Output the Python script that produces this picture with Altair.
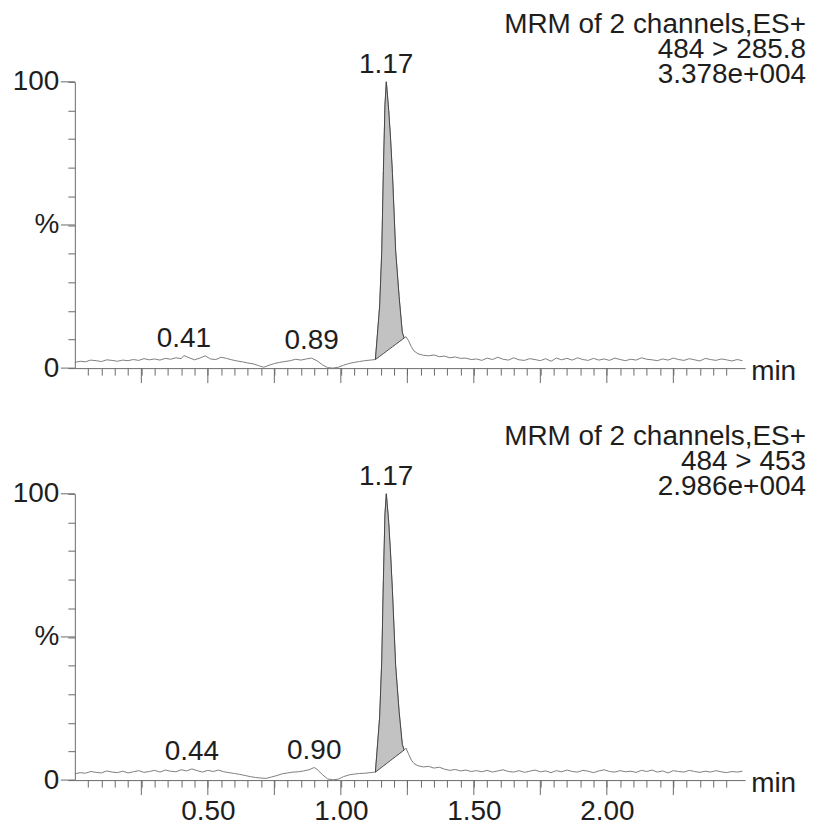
import altair as alt
import numpy as np
import pandas as pd

W, H = 672, 287
FONT = "Liberation Sans"
FS = 28
TXT = "#1e1e1e"
AX = "#6a6a6a"
TRACE = "#808080"
FILL = "#c2c2c2"
EDGE = "#454545"

# ---- top trace: MRM 484 > 285.8 ----
top_time = [0.00, 0.02, 0.04, 0.06, 0.08, 0.10, 0.12, 0.14, 0.16, 0.18, 0.20, 0.22, 0.24, 0.26,
            0.28, 0.30, 0.32, 0.34, 0.36, 0.38, 0.40, 0.41, 0.43, 0.45, 0.47, 0.49, 0.51, 0.53,
            0.55, 0.57, 0.59, 0.61, 0.63, 0.65, 0.67, 0.69, 0.71, 0.73, 0.75, 0.77, 0.79, 0.81,
            0.83, 0.85, 0.87, 0.89, 0.91, 0.93, 0.95, 0.97, 0.99, 1.01, 1.03, 1.05, 1.07, 1.09,
            1.11, 1.13, 1.146, 1.154, 1.160, 1.166, 1.171, 1.180, 1.187, 1.194, 1.206, 1.219,
            1.231, 1.238, 1.245, 1.255, 1.265, 1.275, 1.29, 1.31, 1.33, 1.35, 1.37, 1.39, 1.41,
            1.43, 1.45, 1.47, 1.49, 1.51, 1.53, 1.55, 1.57, 1.59, 1.61, 1.63, 1.65, 1.67, 1.69,
            1.71, 1.73, 1.75, 1.77, 1.79, 1.81, 1.83, 1.85, 1.87, 1.89, 1.91, 1.93, 1.95, 1.97,
            1.99, 2.01, 2.03, 2.05, 2.07, 2.09, 2.11, 2.13, 2.15, 2.17, 2.19, 2.21, 2.23, 2.25,
            2.27, 2.29, 2.31, 2.33, 2.35, 2.37, 2.39, 2.41, 2.43, 2.45, 2.47, 2.49, 2.51]
top_pct = [2.0, 2.4, 2.2, 2.8, 2.6, 2.3, 2.9, 2.7, 2.4, 2.8, 2.6, 3.0, 2.7, 3.3,
           2.9, 3.2, 2.8, 3.4, 3.1, 3.6, 3.3, 4.4, 3.6, 2.9, 3.5, 4.3, 3.2, 3.0,
           3.8, 3.4, 2.9, 2.5, 2.2, 1.8, 1.5, 0.9, 0.3, 1.0, 1.6, 2.0, 2.3, 2.6,
           3.1, 2.8, 3.2, 3.5, 2.6, 1.2, 0.2, 0.0, 0.3, 1.0, 1.6, 2.0, 2.3, 2.6,
           2.8, 3.0, 21.7, 41.0, 69.0, 92.0, 100.0, 90.0, 80.0, 68.0, 41.0, 25.0,
           12.5, 10.5, 11.0, 9.5, 7.5, 6.0, 5.0, 4.5, 4.3, 4.6, 4.0, 4.2, 3.6,
           3.9, 3.4, 3.5, 3.0, 3.2, 2.7, 3.5, 3.0, 3.8, 3.1, 2.8, 3.6, 2.9, 2.7,
           3.3, 3.0, 2.6, 3.3, 2.4, 3.5, 2.9, 3.4, 2.8, 3.6, 3.0, 2.7, 3.4, 2.8,
           3.2, 2.7, 3.5, 3.0, 2.6, 3.1, 2.8, 3.6, 3.1, 2.9, 2.6, 3.2, 2.8, 3.5,
           3.0, 2.7, 3.3, 2.9, 2.5, 3.4, 3.0, 2.7, 3.2, 2.9, 2.5, 3.0, 2.6]

# ---- bottom trace: MRM 484 > 453 ----
bot_time = [0.00, 0.02, 0.04, 0.06, 0.08, 0.10, 0.12, 0.14, 0.16, 0.18, 0.20, 0.22, 0.24, 0.26,
            0.28, 0.30, 0.32, 0.34, 0.36, 0.38, 0.40, 0.42, 0.44, 0.46, 0.48, 0.50, 0.52, 0.54,
            0.56, 0.58, 0.60, 0.62, 0.64, 0.66, 0.68, 0.70, 0.72, 0.74, 0.76, 0.78, 0.80, 0.82,
            0.84, 0.86, 0.88, 0.90, 0.91, 0.93, 0.95, 0.97, 0.99, 1.01, 1.03, 1.05, 1.07, 1.09,
            1.11, 1.13, 1.146, 1.154, 1.160, 1.166, 1.171, 1.180, 1.187, 1.194, 1.206, 1.219,
            1.231, 1.238, 1.245, 1.255, 1.265, 1.275, 1.29, 1.31, 1.33, 1.35, 1.37, 1.39, 1.41,
            1.43, 1.45, 1.47, 1.49, 1.51, 1.53, 1.55, 1.57, 1.59, 1.61, 1.63, 1.65, 1.67, 1.69,
            1.71, 1.73, 1.75, 1.77, 1.79, 1.81, 1.83, 1.85, 1.87, 1.89, 1.91, 1.93, 1.95, 1.97,
            1.99, 2.01, 2.03, 2.05, 2.07, 2.09, 2.11, 2.13, 2.15, 2.17, 2.19, 2.21, 2.23, 2.25,
            2.27, 2.29, 2.31, 2.33, 2.35, 2.37, 2.39, 2.41, 2.43, 2.45, 2.47, 2.49, 2.51]
bot_pct = [2.2, 2.6, 2.4, 3.0, 2.7, 2.5, 3.2, 2.8, 2.6, 3.1, 2.5, 2.9, 3.3, 2.7,
           3.0, 3.4, 2.8, 3.5, 3.1, 2.9, 3.6, 3.2, 3.9, 3.3, 2.8, 3.4, 3.0, 3.5,
           2.9, 2.6, 2.3, 2.0, 1.6, 1.2, 0.9, 0.7, 0.6, 1.1, 1.6, 2.2, 2.5, 2.8,
           2.9, 3.2, 3.6, 4.4, 3.8, 2.0, 0.4, 0.1, 0.3, 1.2, 1.8, 2.1, 2.3, 2.4,
           2.6, 2.8, 22.0, 42.0, 70.0, 93.0, 100.0, 90.0, 79.0, 66.0, 40.0, 24.0,
           12.5, 10.5, 11.2, 9.0, 7.0, 5.8, 5.0, 4.6, 4.8, 4.2, 4.5, 3.8, 3.4,
           3.7, 3.2, 3.5, 3.0, 3.3, 2.9, 3.4, 2.8, 3.2, 3.6, 3.0, 2.8, 3.3, 2.7,
           3.1, 3.5, 2.9, 3.2, 2.6, 3.3, 2.9, 3.5, 3.0, 2.8, 3.4, 3.1, 2.6, 3.2,
           3.6, 3.0, 2.8, 3.3, 2.9, 3.1, 2.7, 3.4, 3.0, 3.5, 2.8, 3.2, 2.5, 3.3,
           3.0, 2.8, 3.4, 3.0, 2.7, 3.1, 2.8, 3.3, 2.9, 2.6, 3.0, 2.8, 3.1]

top_peak = [1.13, 1.238]
bot_peak = [1.13, 1.238]

top_lab_t = [0.41, 0.89, 1.17]
top_lab_p = [4.4, 3.5, 100.0]
top_lab_s = ["0.41", "0.89", "1.17"]
bot_lab_t = [0.44, 0.90, 1.17]
bot_lab_p = [3.9, 4.4, 100.0]
bot_lab_s = ["0.44", "0.90", "1.17"]

top_header = ["MRM of 2 channels,ES+", "484 > 285.8", "3.378e+004"]
bot_header = ["MRM of 2 channels,ES+", "484 > 453", "2.986e+004"]

minor_ticks = [round(0.05 * i, 2) for i in range(1, 50)]
mid_ticks = [0.25 * i for i in range(1, 10)]
y_ticks = list(range(0, 101, 10))
y_major = [0, 50, 100]
header_dy = [-57, -32, -7]

NOVIEW = alt.ViewBackground(stroke="transparent", strokeWidth=0, fill="white")


def panel(times, pct, peak, lt, lp, ls, header, show_x_labels):
    df = pd.DataFrame({"t": times, "p": pct})
    s, e = peak
    pk = df[(df.t >= s - 1e-9) & (df.t <= e + 1e-9)].copy()
    ps = float(df.loc[np.isclose(df.t, s), "p"].iloc[0])
    pe = float(df.loc[np.isclose(df.t, e), "p"].iloc[0])
    pk["b"] = np.interp(pk.t, [s, e], [ps, pe])

    xscale = alt.Scale(domain=[0, 2.52], nice=False, zero=False)
    yscale = alt.Scale(domain=[0, 100], nice=False)
    xaxis = alt.Axis(values=minor_ticks, tickSize=7, labels=show_x_labels,
                     labelExpr="abs(datum.value*2 - round(datum.value*2)) < 0.001 ? format(datum.value, '.2f') : ''",
                     title=None, grid=False, domainColor=AX, tickColor=AX,
                     labelFont=FONT, labelFontSize=FS, labelColor=TXT, labelPadding=11,
                     labelOverlap=False, labelFlush=False)
    yaxis = alt.Axis(values=y_ticks, tickSize=7,
                     labelExpr="datum.value == 100 ? '100' : datum.value == 50 ? '%' : datum.value == 0 ? '0' : ''",
                     title=None, grid=False, domainColor=AX, tickColor=AX,
                     labelFont=FONT, labelFontSize=FS, labelColor=TXT, labelPadding=9,
                     labelOverlap=False, labelFlush=False)

    X = lambda f: alt.X(f, scale=xscale, axis=xaxis)
    Y = lambda f: alt.Y(f, scale=yscale, axis=yaxis)

    line = alt.Chart(df).mark_line(color=TRACE, strokeWidth=1).encode(x=X("t:Q"), y=Y("p:Q"))
    area = alt.Chart(pk).mark_area(fill=FILL, fillOpacity=1, stroke=EDGE, strokeWidth=1).encode(
        x=X("t:Q"), y=Y("p:Q"), y2="b:Q"
    )
    xt = alt.Chart(pd.DataFrame({"t": mid_ticks})).mark_rule(color=AX, strokeWidth=1).encode(
        x=X("t:Q"), y=alt.value(H), y2=alt.value(H + 15)
    )
    yt = alt.Chart(pd.DataFrame({"p": y_major})).mark_rule(color=AX, strokeWidth=1).encode(
        y=Y("p:Q"), x=alt.value(-14), x2=alt.value(0)
    )
    labs = alt.Chart(pd.DataFrame({"t": lt, "p": lp, "s": ls})).mark_text(
        baseline="bottom", dy=-3, font=FONT, fontSize=FS, color=TXT
    ).encode(x=X("t:Q"), y=Y("p:Q"), text="s:N")
    heads = [
        alt.Chart(pd.DataFrame({"s": [h]})).mark_text(
            align="right", baseline="middle", font=FONT, fontSize=FS, color=TXT
        ).encode(x=alt.value(W + 61), y=alt.value(dy), text="s:N")
        for h, dy in zip(header, header_dy)
    ]
    mn = alt.Chart(pd.DataFrame({"s": ["min"]})).mark_text(
        align="left", baseline="middle", font=FONT, fontSize=FS, color=TXT
    ).encode(x=alt.value(W + 6), y=alt.value(H + 4), text="s:N")
    return alt.layer(line, area, xt, yt, labs, mn, *heads).properties(
        width=W, height=H, view=NOVIEW
    )


top = panel(top_time, top_pct, top_peak, top_lab_t, top_lab_p, top_lab_s, top_header, False)
bot = panel(bot_time, bot_pct, bot_peak, bot_lab_t, bot_lab_p, bot_lab_s, bot_header, True)

chart = alt.vconcat(top, bot, spacing=126, bounds="flush").properties(
    padding={"left": 4, "top": 2, "right": 0, "bottom": 0}
).configure_view(stroke="transparent", strokeWidth=0).configure(background="white")

chart.save("out.html", embed_options={"renderer": "svg", "actions": False})
